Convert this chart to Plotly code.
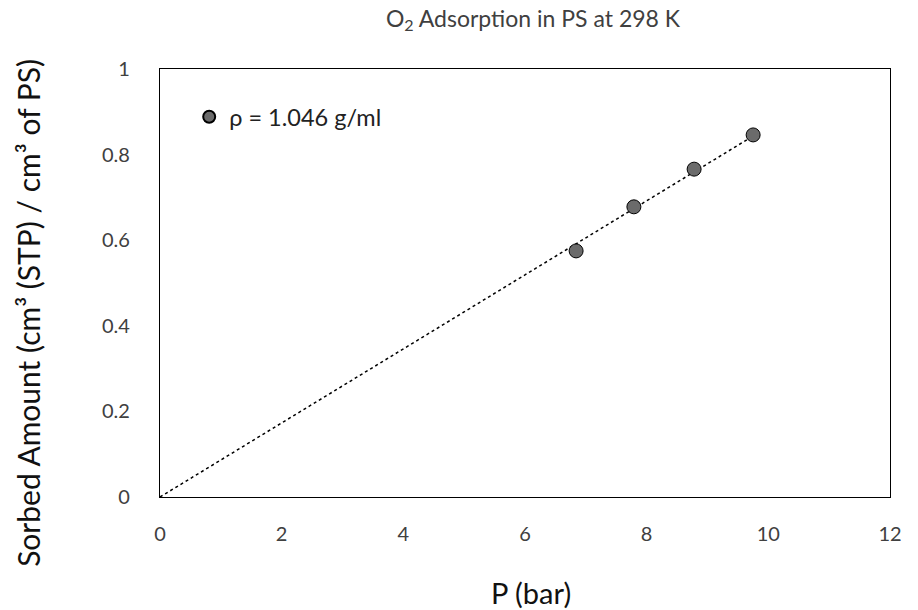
import plotly.graph_objects as go

pressure = [6.84, 7.79, 8.78, 9.75]
sorbed = [0.575, 0.678, 0.766, 0.846]
x_ticks = [0, 2, 4, 6, 8, 10, 12]
y_ticks = [0, 0.2, 0.4, 0.6, 0.8, 1]
y_tick_text = ["0", "0.2", "0.4", "0.6", "0.8", "1"]
series_name = "ρ = 1.046 g/ml"
x_title = "P (bar)"
y_title = "Sorbed Amount (cm³ (STP) / cm³ of PS)"

# linear trendline through origin (least squares from data)
slope = sum(a * b for a, b in zip(pressure, sorbed)) / sum(a * a for a in pressure)
trend_x = [0, max(pressure)]
trend_y = [slope * v for v in trend_x]

FONT = "Lato"
fig = go.Figure()
fig.add_trace(go.Scatter(x=trend_x, y=trend_y, mode="lines",
                         line=dict(color="black", width=1.5, dash="dot"),
                         showlegend=False, hoverinfo="skip"))
fig.add_trace(go.Scatter(x=pressure, y=sorbed, mode="markers", name=series_name,
                         marker=dict(size=14, color="#6b6b6b",
                                     line=dict(color="black", width=1))))

fig.update_layout(
    width=910, height=602,
    paper_bgcolor="white", plot_bgcolor="white",
    margin=dict(l=152, r=28, t=61, b=113),
    font=dict(family=FONT, color="#404040"),
    title=dict(text="O<sub>2</sub> Adsorption in PS at 298 K", x=0.5769, xanchor="center",
               xref="container", yref="container",
               y=0.996, yanchor="top", font=dict(size=23, family=FONT, color="#404040")),
    legend=dict(x=0.04, y=0.888, xanchor="left", yanchor="middle",
                bgcolor="rgba(0,0,0,0)", font=dict(size=23.5, family=FONT, color="#222222"),
                itemsizing="constant"),
    xaxis=dict(range=[0, 12], tickvals=x_ticks, ticktext=[str(v) for v in x_ticks],
               showgrid=False, zeroline=False, showline=True, linecolor="black",
               linewidth=1.3, mirror=True, ticks="", tickfont=dict(size=20, color="#404040"),
               ticklabelstandoff=19),
    yaxis=dict(range=[0, 1], tickvals=y_ticks, ticktext=y_tick_text,
               showgrid=False, zeroline=False, showline=True, linecolor="black",
               linewidth=1.3, mirror=True, ticks="", tickfont=dict(size=20, color="#404040"),
               ticklabelstandoff=25),
    annotations=[
        dict(text=x_title, xref="paper", yref="paper", x=0.508, y=-0.222,
             xanchor="center", yanchor="middle", showarrow=False,
             font=dict(size=29, family=FONT, color="#111111")),
        dict(text=y_title, xref="paper", yref="paper", x=-0.181, y=0.43,
             xanchor="center", yanchor="middle", showarrow=False, textangle=-90,
             font=dict(size=30, family=FONT, color="#111111")),
    ],
)
fig.write_html("out.html")
